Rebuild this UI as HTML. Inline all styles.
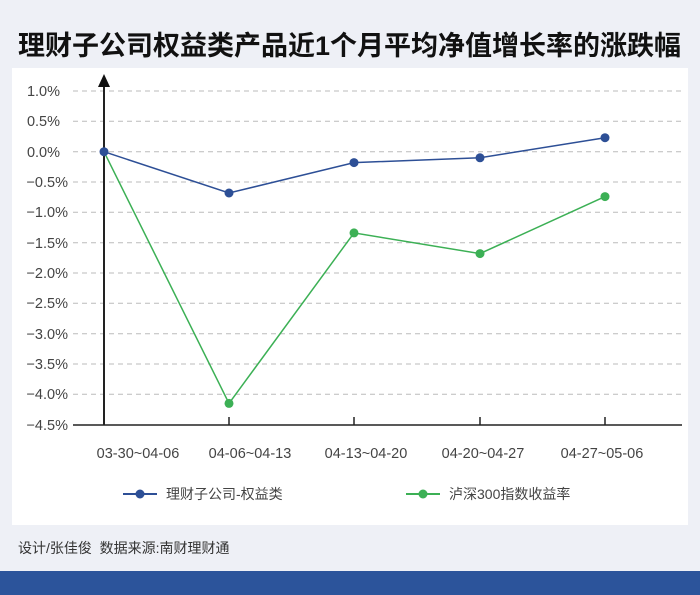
<!DOCTYPE html>
<html><head><meta charset="utf-8"><style>
body{margin:0;width:700px;height:595px;background:#eef0f6;position:relative;overflow:hidden;font-family:"Liberation Sans","Noto Sans CJK SC",sans-serif}
.t{position:absolute;left:18px;top:24px;font-size:27px;font-weight:bold;color:#111;letter-spacing:0px;white-space:nowrap}
.p{position:absolute;left:12px;top:68px;width:676px;height:457px;background:#fff}
.f{position:absolute;left:18px;top:538px;font-size:14px;color:#333}
.b{position:absolute;left:0;top:571px;width:700px;height:24px;background:#2c549b}
</style></head><body>
<div class="t">理财子公司权益类产品近1个月平均净值增长率的涨跌幅</div>
<div class="p"></div>
<svg width="700" height="595" style="position:absolute;left:0;top:0" font-family="Liberation Sans, Noto Sans CJK SC, sans-serif">
<g stroke="#bbb" stroke-dasharray="5,4" stroke-width="1">
<line x1="73" x2="682" y1="91" y2="91"/><line x1="73" x2="682" y1="121.3" y2="121.3"/><line x1="73" x2="682" y1="151.7" y2="151.7"/><line x1="73" x2="682" y1="182" y2="182"/><line x1="73" x2="682" y1="212.3" y2="212.3"/><line x1="73" x2="682" y1="242.7" y2="242.7"/><line x1="73" x2="682" y1="273" y2="273"/><line x1="73" x2="682" y1="303.3" y2="303.3"/><line x1="73" x2="682" y1="333.7" y2="333.7"/><line x1="73" x2="682" y1="364" y2="364"/><line x1="73" x2="682" y1="394.3" y2="394.3"/>
</g>
<g font-size="14.5" fill="#444" text-anchor="end">
<text x="60" y="96">1.0%</text><text x="60" y="126">0.5%</text><text x="60" y="157">0.0%</text><text x="68" y="187">−0.5%</text><text x="68" y="217">−1.0%</text><text x="68" y="248">−1.5%</text><text x="68" y="278">−2.0%</text><text x="68" y="308">−2.5%</text><text x="68" y="339">−3.0%</text><text x="68" y="369">−3.5%</text><text x="68" y="399">−4.0%</text><text x="68" y="430">−4.5%</text>
</g>
<line x1="73" x2="682" y1="425" y2="425" stroke="#222" stroke-width="1.5"/>
<line x1="104" x2="104" y1="85" y2="425" stroke="#222" stroke-width="2"/>
<polygon points="104,74 98,87 110,87" fill="#111"/>
<g stroke="#222" stroke-width="1.5"><line x1="229" x2="229" y1="417" y2="425"/><line x1="354" x2="354" y1="417" y2="425"/><line x1="480" x2="480" y1="417" y2="425"/><line x1="605" x2="605" y1="417" y2="425"/></g>
<g font-size="14.5" fill="#444" text-anchor="middle">
<text x="138" y="458">03-30~04-06</text><text x="250" y="458">04-06~04-13</text><text x="366" y="458">04-13~04-20</text><text x="483" y="458">04-20~04-27</text><text x="602" y="458">04-27~05-06</text>
</g>
<polyline points="104,151.7 229,403.4 354,232.9 480,253.6 605,196.6" fill="none" stroke="#3cb055" stroke-width="1.5"/>
<polyline points="104,151.7 229,193 354,162.6 480,157.8 605,137.7" fill="none" stroke="#2d4f96" stroke-width="1.5"/>
<g fill="#3cb055"><circle cx="229" cy="403.4" r="4.5"/><circle cx="354" cy="232.9" r="4.5"/><circle cx="480" cy="253.6" r="4.5"/><circle cx="605" cy="196.6" r="4.5"/></g>
<g fill="#2d4f96"><circle cx="104" cy="151.7" r="4.5"/><circle cx="229" cy="193" r="4.5"/><circle cx="354" cy="162.6" r="4.5"/><circle cx="480" cy="157.8" r="4.5"/><circle cx="605" cy="137.7" r="4.5"/></g>
<line x1="123" x2="157" y1="494" y2="494" stroke="#2d4f96" stroke-width="2"/><circle cx="140" cy="494" r="4.5" fill="#2d4f96"/>
<text x="166" y="499" font-size="14" fill="#444">理财子公司-权益类</text>
<line x1="406" x2="440" y1="494" y2="494" stroke="#3cb055" stroke-width="2"/><circle cx="423" cy="494" r="4.5" fill="#3cb055"/>
<text x="449" y="499" font-size="14" fill="#444">泸深300指数收益率</text>
</svg>
<div class="f">设计/张佳俊&nbsp; 数据来源:南财理财通</div>
<div class="b"></div>
</body></html>
